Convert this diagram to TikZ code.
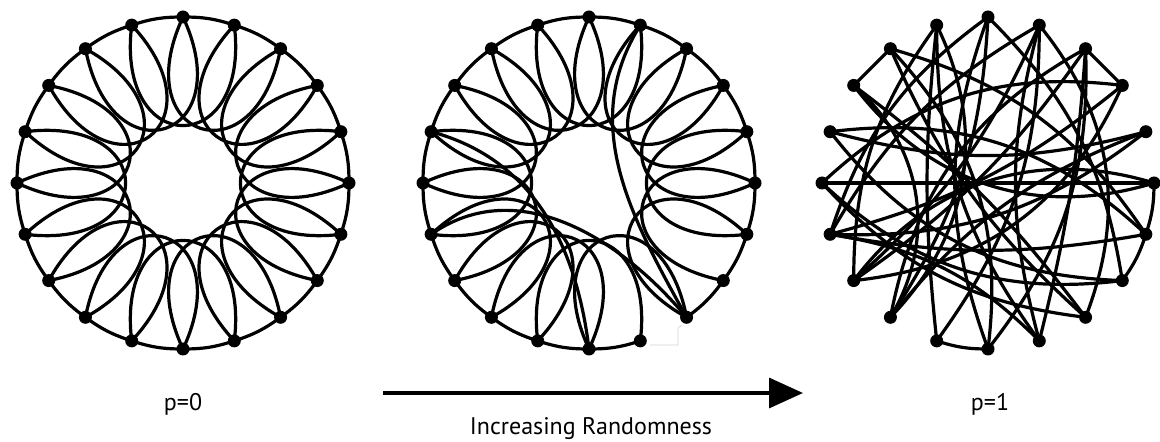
\documentclass[tikz,border=0pt]{standalone}
\usepackage{fontspec}
\newfontfamily\lblfont{PT Sans}
\usetikzlibrary{arrows.meta,calc}
\pgfdeclarelayer{edges}
\pgfsetlayers{edges,main}
\tikzset{
  dot/.style={circle,fill=black,inner sep=0pt,minimum size=13pt},
  edge/.style={line width=3.2pt,line cap=round,line join=round},
  petal/.style={edge,distance=135pt},
  lbl/.style={font=\lblfont\fontsize{24}{28}\selectfont,inner sep=0pt,anchor=base}
}
\begin{document}
\begin{tikzpicture}[x=1pt,y=1pt]
\useasboundingbox (0,0) rectangle (1160,442);
% nodes
\foreach \k in {0,...,19}{
  \node[dot] (a\k) at ($(183,259)+({90-18*\k}:166)$) {};
  \node[dot] (b\k) at ($(589,259)+({90-18*\k}:166)$) {};
  \node[dot] (c\k) at ($(988,259)+({90-18*\k}:166)$) {};
}
\begin{pgfonlayer}{edges}
% p = 0 : regular ring lattice
\foreach \k in {0,...,19}{
  \pgfmathtruncatemacro\j{mod(\k+1,20)}
  \pgfmathtruncatemacro\m{mod(\k+2,20)}
  \pgfmathsetmacro\ao{90-18*\k+180-25}
  \pgfmathsetmacro\ai{90-18*\k-36+180+25}
  \draw[edge] (a\k.center) to[bend left=9] (a\j.center);
  \draw[petal] (a\k.center) to[out=\ao,in=\ai] (a\m.center);
  \ifnum\k=8\else
    \draw[edge] (b\k.center) to[bend left=9] (b\j.center);
  \fi
  \ifnum\k=7\else
    \draw[petal] (b\k.center) to[out=\ao,in=\ai] (b\m.center);
  \fi
}
% rewired edges (middle)
\draw[edge] (b14.center) to[out=35,in=130] (b8.center);
\draw[edge] (b16.center) to[out=-15,in=97] (b10.center);
\draw[edge] (b1.center) to[out=238,in=119] (b8.center);
\draw[gray!35,line width=0.6pt] (650,97) -- (678,97) -- (678,114) -- (682,117);
% p = 1 : random graph
\foreach \u/\v/\b in {17/18/0, 2/3/0, 5/6/9, 6/7/9, 10/11/9, 15/5/0,
  16/4/-15, 16/6/25, 14/6/-10, 14/3/-12, 14/1/15, 13/19/18, 13/2/-10, 12/0/-15,
  12/19/-35, 11/19/6, 11/1/-18, 10/0/20, 10/2/-20, 9/1/15, 18/8/-12, 17/8/8,
  17/12/40, 3/13/30, 2/9/5, 2/12/-25, 1/13/12, 1/8/30, 0/14/-18, 0/7/18,
  19/9/-18, 5/13/-35, 5/17/35, 15/3/25, 15/7/-25, 4/14/20, 4/12/-15,
  7/16/25, 8/15/20, 18/6/20, 18/10/25, 9/14/-18}{
  \draw[edge] (c\u.center) to[bend left=\b] (c\v.center);
}
\end{pgfonlayer}
% arrow and labels
\coordinate (as) at (383,49);
\coordinate (ae) at (803,49);
\draw[line width=3.4pt,-{Triangle[length=34pt,width=30pt]}] (as) -- (ae);
\node[lbl] (l0) at (183,31) {p=0};
\node[lbl] (l1) at (990,31) {p=1};
\node[lbl] (lr) at (591,8) {Increasing Randomness};
\end{tikzpicture}
\end{document}
